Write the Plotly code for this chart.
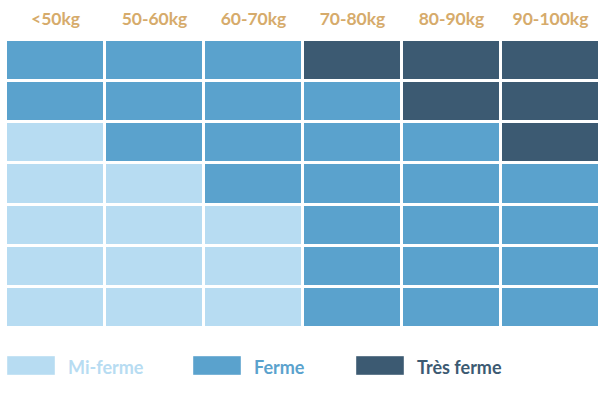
import plotly.graph_objects as go

categories = ["<50kg", "50-60kg", "60-70kg", "70-80kg", "80-90kg", "90-100kg"]
rows = ["1", "2", "3", "4", "5", "6", "7"]
# 0 = Mi-ferme, 1 = Ferme, 2 = Très ferme
levels = [
    [1, 1, 1, 2, 2, 2],
    [1, 1, 1, 1, 2, 2],
    [0, 1, 1, 1, 1, 2],
    [0, 0, 1, 1, 1, 1],
    [0, 0, 0, 1, 1, 1],
    [0, 0, 0, 1, 1, 1],
    [0, 0, 0, 1, 1, 1],
]
level_names = ["Mi-ferme", "Ferme", "Très ferme"]
level_colors = ["#b7dcf2", "#5aa2cd", "#3c5a72"]
header_color = "#d6ab6b"

colorscale = [
    [0.0, level_colors[0]], [1/3, level_colors[0]],
    [1/3, level_colors[1]], [2/3, level_colors[1]],
    [2/3, level_colors[2]], [1.0, level_colors[2]],
]

fig = go.Figure(go.Heatmap(
    z=levels, x=categories, y=rows,
    zmin=-0.5, zmax=2.5, colorscale=colorscale,
    xgap=3, ygap=3, showscale=False, hoverinfo="skip",
))

fig.update_layout(
    width=600, height=395,
    margin=dict(l=6, r=0, t=40, b=67),
    paper_bgcolor="white", plot_bgcolor="white",
    font=dict(family="Lato", size=18),
    xaxis=dict(side="top", showgrid=False, zeroline=False, showline=False,
               ticks="", ticklabelstandoff=11,
               tickvals=categories,
               ticktext=["<b>" + c.replace("<", "&lt;") + "</b>" for c in categories],
               tickfont=dict(color=header_color, size=17.5, family="Lato"),
               fixedrange=True),
    yaxis=dict(autorange="reversed", showticklabels=False, showgrid=False,
               zeroline=False, showline=False, fixedrange=True),
)

legend_x = [7, 193, 356]
shapes = []
annotations = []
for name, color, x0 in zip(level_names, level_colors, legend_x):
    shapes.append(dict(type="rect", xref="paper", yref="paper",
                       x0=(x0 - 6) / 594, x1=(x0 + 48 - 6) / 594,
                       y0=-(356 - 328) / 288, y1=-(375 - 328) / 288,
                       fillcolor=color, line=dict(width=1, color="rgba(255,255,255,0.4)")))
    annotations.append(dict(xref="paper", yref="paper",
                            x=(x0 + 59 - 6) / 594, y=-(367 - 328) / 288,
                            xanchor="left", yanchor="middle", showarrow=False,
                            text="<b>" + name + "</b>",
                            font=dict(color=color, size=18, family="Lato")))
fig.update_layout(shapes=shapes, annotations=annotations)

fig.write_html("out.html", config={"displayModeBar": False},
               post_script="document.body.style.margin='0';")
